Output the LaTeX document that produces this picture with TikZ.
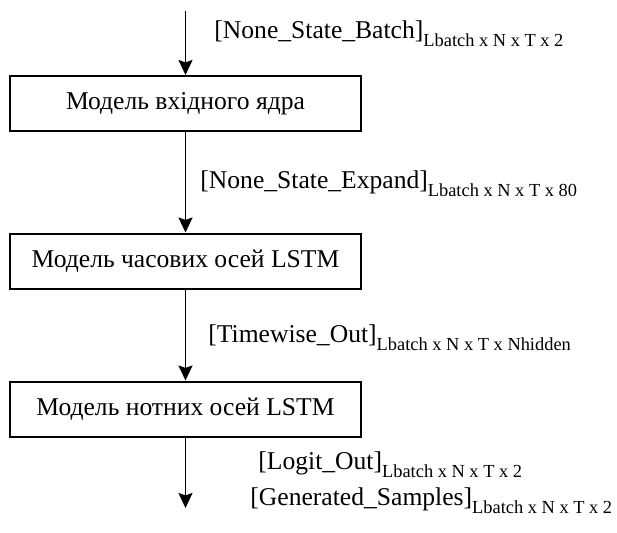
\documentclass[tikz,border=0pt]{standalone}
\usepackage{fontspec}
\setmainfont{Liberation Serif}
\usetikzlibrary{arrows.meta}
% tensor shape written as a lowered, smaller subscript
\newcommand\dimsub[1]{\raisebox{-4pt}{\fontsize{9.2}{10}\selectfont #1}}
\tikzset{
  stage/.style={draw=black, line width=1pt, minimum width=175.5pt, minimum height=27.5pt,
                inner sep=0pt, font=\fontsize{12.8}{14}\selectfont},
  flow/.style={draw=black, line width=0.9pt, -{Stealth[width=7pt,length=7.5pt,inset=1.2pt]}},
  shape label/.style={anchor=base west, inner sep=0pt, font=\fontsize{12.8}{14}\selectfont}
}
\begin{document}
\begin{tikzpicture}[x=0.5pt,y=-0.5pt]
  \useasboundingbox (0,0) rectangle (617,532);

  % processing stages
  \node[stage] (core) at (185.5,103.5) {Модель вхідного ядра};
  \node[stage] (time) at (185.5,261) {Модель часових осей LSTM};
  \node[stage] (note) at (185.5,409) {Модель нотних осей LSTM};

  % free ends of the input and output arrows
  \coordinate (in) at (185.5,11);
  \coordinate (out) at (185.5,508);

  % data flow
  \draw[flow] (in) -- (core.north);
  \draw[flow] (core.south) -- (time.north);
  \draw[flow] (time.south) -- (note.north);
  \draw[flow] (note.south) -- (out);

  % tensor labels
  \node[shape label] (l1) at (214,38) {[None\_State\_Batch]\dimsub{Lbatch x N x T x 2}};
  \node[shape label] (l2) at (200,188) {[None\_State\_Expand]\dimsub{Lbatch x N x T x 80}};
  \node[shape label] (l3) at (208,342) {[Timewise\_Out]\dimsub{Lbatch x N x T x Nhidden}};
  \node[shape label] (l4) at (258,469) {[Logit\_Out]\dimsub{Lbatch x N x T x 2}};
  \node[shape label] (l5) at (250,505) {[Generated\_Samples]\dimsub{Lbatch x N x T x 2}};
\end{tikzpicture}
\end{document}
